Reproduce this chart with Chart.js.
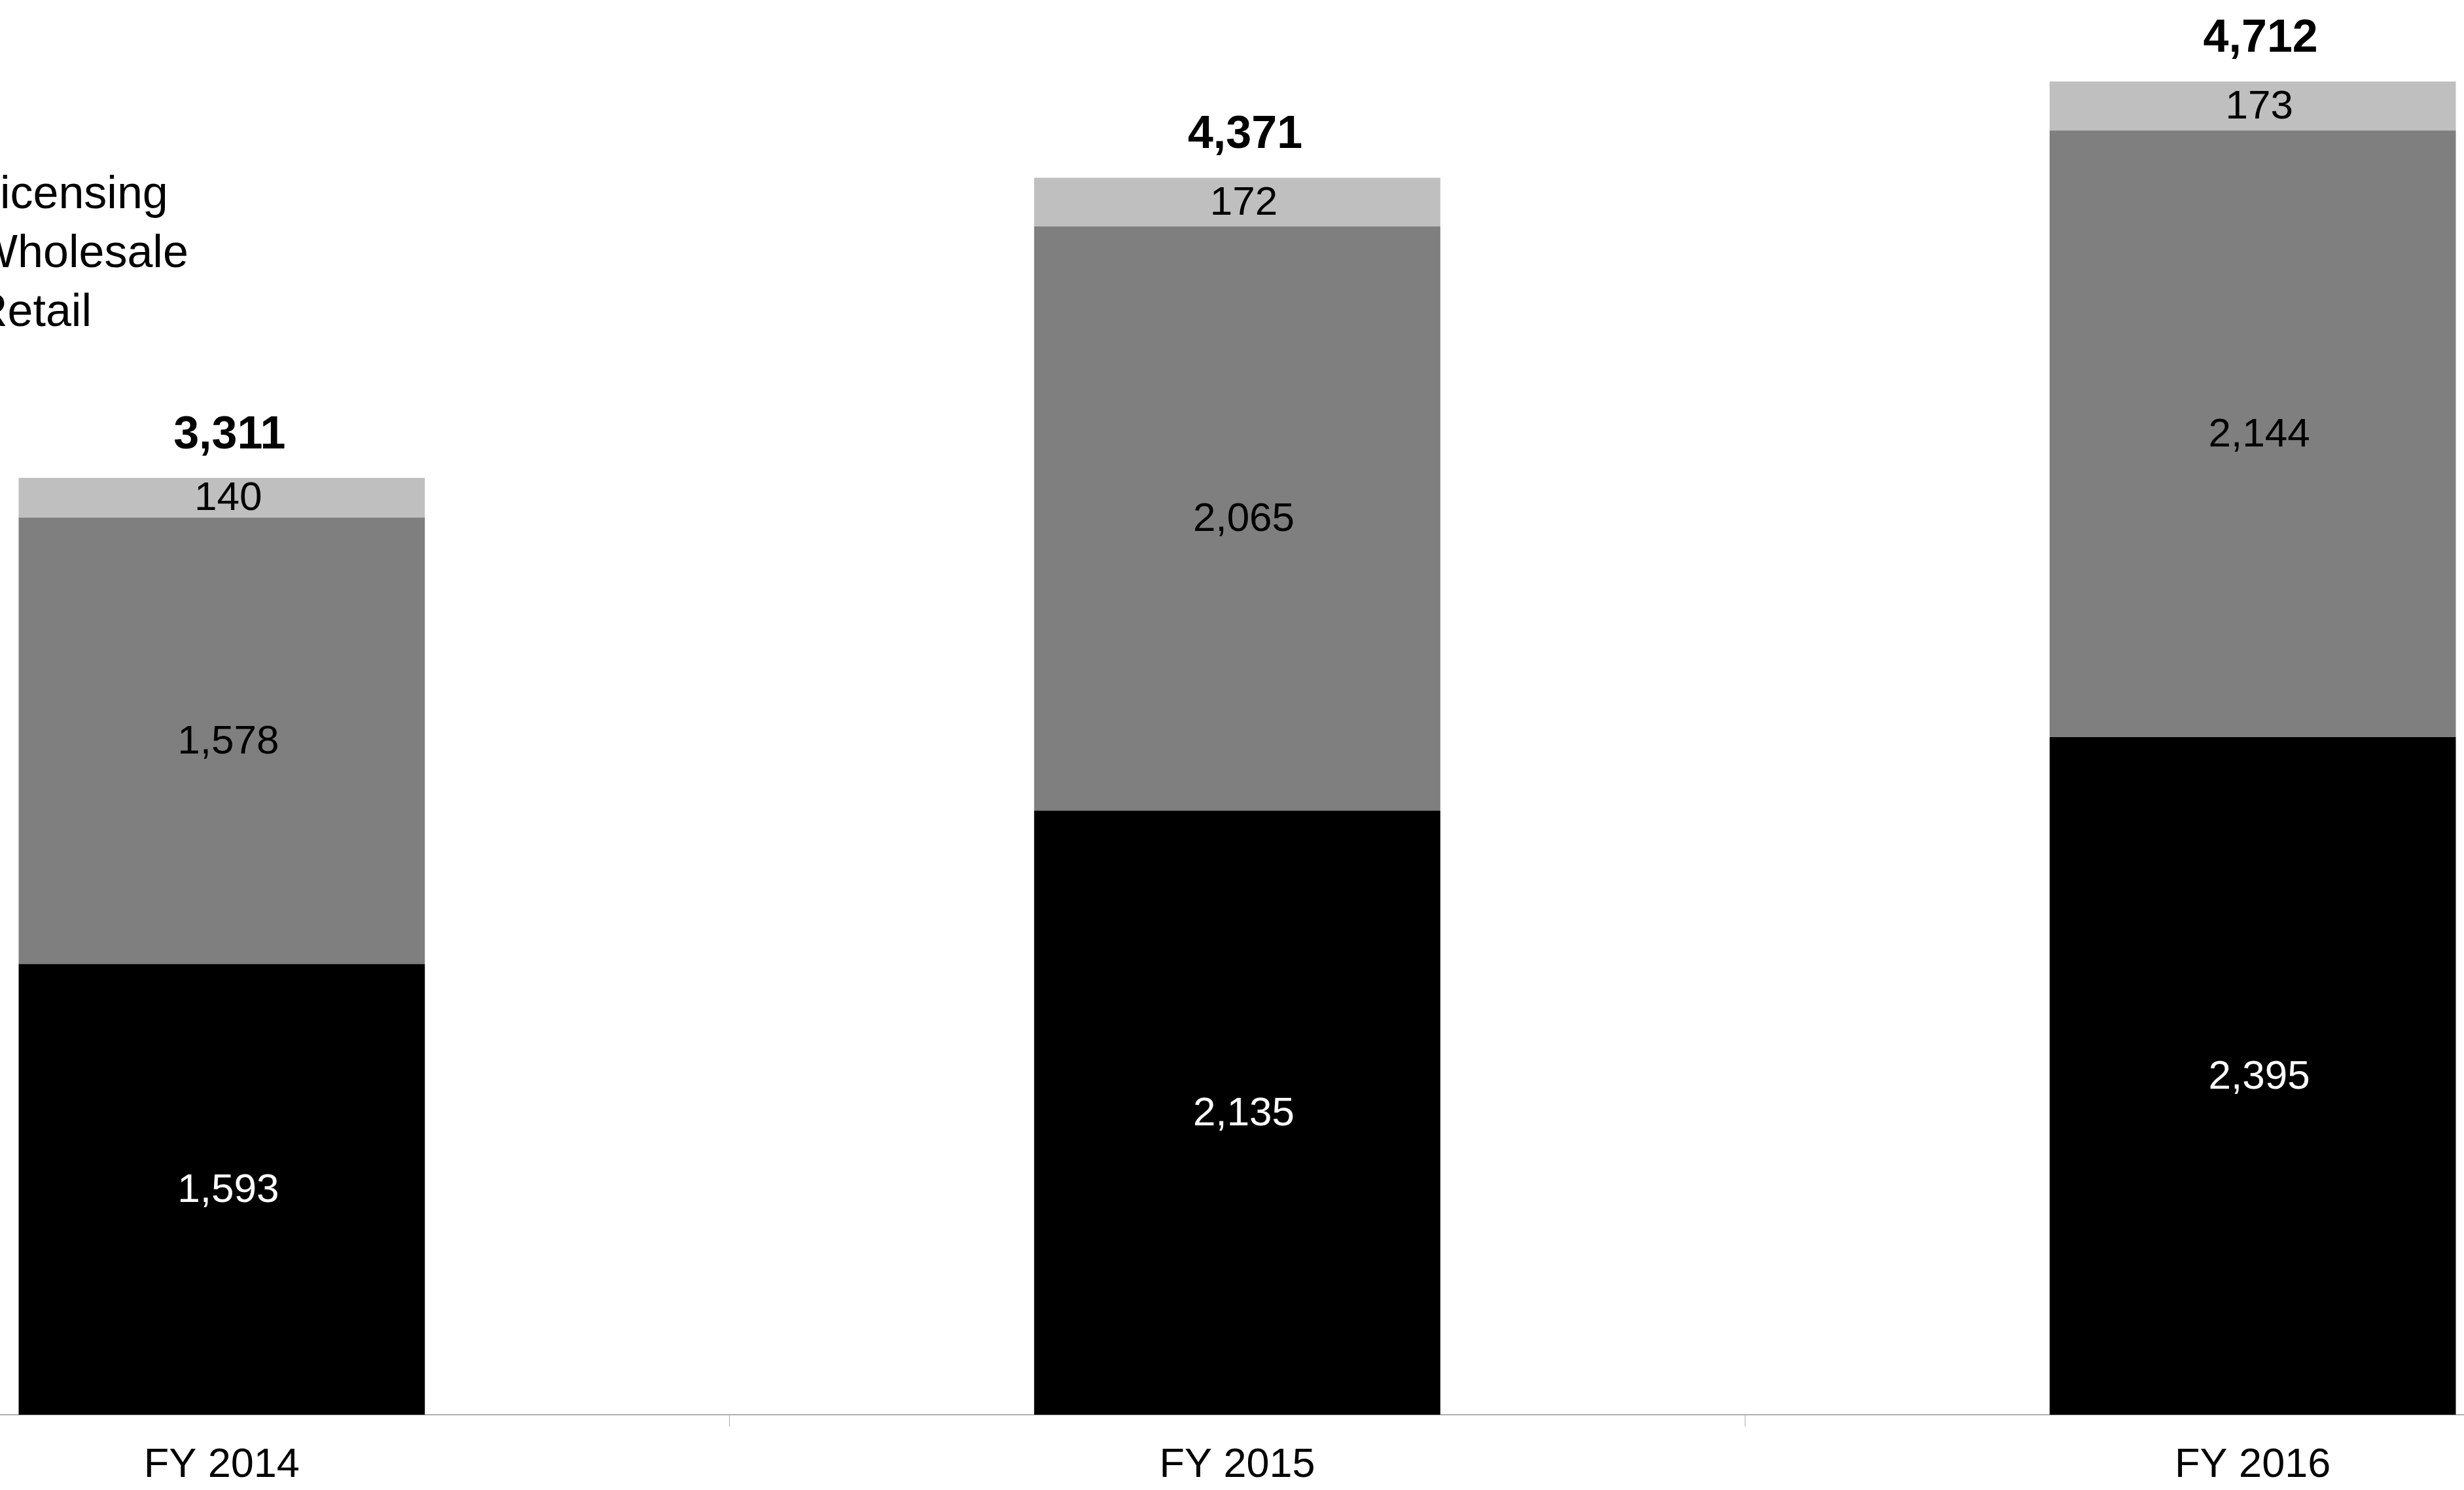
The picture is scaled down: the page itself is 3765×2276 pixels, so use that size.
<!DOCTYPE html>
<html>
<head>
<meta charset="utf-8">
<script src="https://cdn.jsdelivr.net/npm/chart.js@4.4.0/dist/chart.umd.min.js"></script>
<style>
  html, body { margin: 0; padding: 0; background: #ffffff; overflow: hidden; }
  body { width: 3765px; height: 2276px; position: relative; }
  /* the plot is wider than the page, both ends are cut off like in the slide */
  #wrap { position: absolute; left: -437px; top: 0; width: 4655px; height: 2276px; }
</style>
</head>
<body>
<div id="wrap"><canvas id="chart"></canvas></div>
<script>
// revenue by segment, $ millions
var years = ['FY 2014', 'FY 2015', 'FY 2016'];
var retail = [1593, 2135, 2395];
var wholesale = [1578, 2065, 2144];
var licensing = [140, 172, 173];
var totals = [3311, 4371, 4712];

var FONT = "'Liberation Sans', Arial, sans-serif";

function fmt(v) {
  return v.toLocaleString('en-US');
}

// writes the value inside each segment and the total over each bar
var valueLabels = {
  id: 'valueLabels',
  afterDatasetsDraw: function(chart) {
    var ctx = chart.ctx;
    ctx.save();
    ctx.textAlign = 'center';
    ctx.textBaseline = 'middle';
    ctx.font = '62px ' + FONT;
    chart.data.datasets.forEach(function(ds, i) {
      var meta = chart.getDatasetMeta(i);
      meta.data.forEach(function(bar, j) {
        var p = bar.getProps(['x', 'y', 'base'], true);
        ctx.fillStyle = ds.labelColor;
        ctx.fillText(fmt(ds.data[j]), p.x + 10, (p.y + p.base) / 2 + 2);
      });
    });
    // totals
    var top = chart.getDatasetMeta(chart.data.datasets.length - 1);
    ctx.font = 'bold 70px ' + FONT;
    ctx.fillStyle = '#000000';
    ctx.textBaseline = 'alphabetic';
    top.data.forEach(function(bar, j) {
      var p = bar.getProps(['x', 'y'], true);
      ctx.fillText(fmt(totals[j]), p.x + 12, p.y - 45);
    });
    ctx.restore();
  }
};

var ctx = document.getElementById('chart').getContext('2d');
var revenueChart = new Chart(ctx, {
  type: 'bar',
  data: {
    labels: years,
    datasets: [
      { label: 'Retail', data: retail, backgroundColor: '#000000', labelColor: '#ffffff' },
      { label: 'Wholesale', data: wholesale, backgroundColor: '#7f7f7f', labelColor: '#000000' },
      { label: 'Licensing', data: licensing, backgroundColor: '#bfbfbf', labelColor: '#000000' }
    ]
  },
  options: {
    responsive: true,
    maintainAspectRatio: false,
    animation: false,
    devicePixelRatio: 1,
    layout: { padding: 0 },
    datasets: {
      bar: { barPercentage: 1, categoryPercentage: 0.4, borderWidth: 0 }
    },
    scales: {
      x: {
        stacked: true,
        afterFit: function(scale) { scale.height = 115; },
        grid: { display: true, drawOnChartArea: false, drawTicks: true, tickLength: 18, color: '#b0b0b0', offset: true },
        border: { display: true, color: '#b0b0b0', width: 2 },
        ticks: { color: '#000000', padding: 22, font: { family: FONT, size: 63 } }
      },
      y: {
        stacked: true,
        display: false,
        min: 0,
        max: 5000
      }
    },
    plugins: {
      tooltip: { enabled: false },
      legend: {
        position: 'chartArea',
        align: 'start',
        reverse: true,
        title: { display: true, text: '', font: { size: 10, lineHeight: 1 }, padding: { top: 234, bottom: 0 } },
        labels: {
          color: '#000000',
          boxWidth: 343,
          boxHeight: 40,
          padding: 20,
          font: { family: FONT, size: 70 }
        }
      }
    }
  },
  plugins: [valueLabels]
});
</script>
</body>
</html>
